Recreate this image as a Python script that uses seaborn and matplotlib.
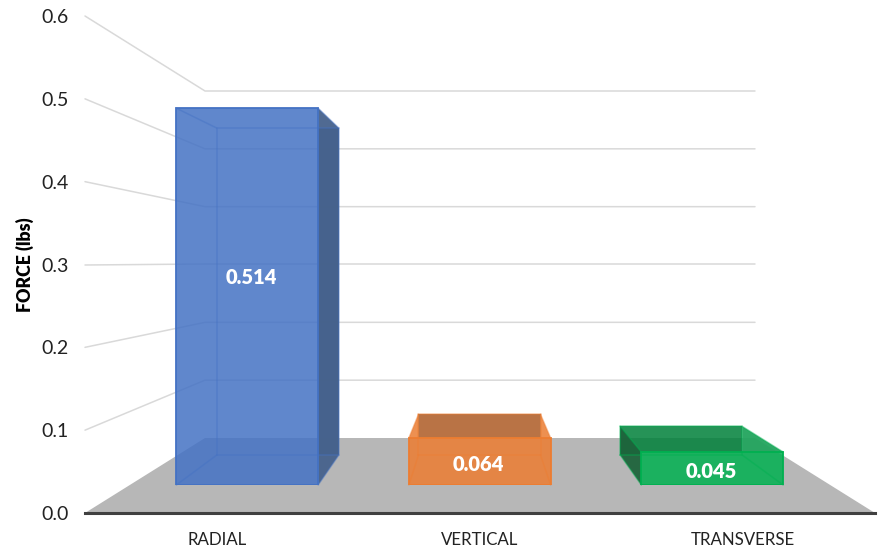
import numpy as np
import matplotlib
matplotlib.use("Agg")
import matplotlib.pyplot as plt
import seaborn as sns
from matplotlib.patches import Polygon
from matplotlib.path import Path
from matplotlib.lines import Line2D
from matplotlib.transforms import IdentityTransform
from matplotlib.colors import to_rgb

categories = ["RADIAL", "VERTICAL", "TRANSVERSE"]
force_values = [0.514, 0.064, 0.045]
value_labels = ["0.514", "0.064", "0.045"]
y_ticks = [0.0, 0.1, 0.2, 0.3, 0.4, 0.5, 0.6]
y_tick_labels = ["0.0", "0.1", "0.2", "0.3", "0.4", "0.5", "0.6"]
bar_colors = ["#4472C4", "#ED7D31", "#00B050"]
left_wall_colors = ["#5C84CC", "#EC8A48", "#1E643C"]
right_wall_colors = ["#46628C", "#EC8A48", "#22A55E"]

W, H = 882, 548
ID = IdentityTransform()
sns.set_theme(style="white")
plt.rcParams["font.family"] = ["Lato", "DejaVu Sans"]

fig = plt.figure(figsize=(W / 100, H / 100), dpi=100, facecolor="white")


def place(x0, x1, y_bottom, y_top, z):
    ax = fig.add_axes([x0 / W, 1 - y_bottom / H, (x1 - x0) / W, (y_bottom - y_top) / H])
    ax.set_zorder(z)
    ax.patch.set_alpha(0)
    return ax


# Four registered layers of the faux-3D scene, all with value axes 0-0.6
ax_main = place(85, 875, 513, 16, 1)      # labelled axis plane
ax_wall = place(205, 755, 438, 91, 2)     # back wall of the chart box
ax_back = place(177, 782, 455, 73.4, 3)   # far face of each bar
ax_front = place(131, 828.5, 485, 45.2, 4)  # near face of each bar

for ax in (ax_main, ax_wall, ax_back, ax_front):
    ax.set_ylim(0, 0.6)
    ax.set_xlim(-0.5, 2.5)


def shade(c, f, a=0.85):
    r, g, b = to_rgb(c)
    return (r * f, g * f, b * f, a)


# Near and far faces from the data
back_rgba = [shade(c, 0.73) for c in bar_colors]
sns.barplot(x=categories, y=force_values, hue=categories, palette=bar_colors, legend=False,
            width=0.605, saturation=1, ax=ax_back)
sns.barplot(x=categories, y=force_values, hue=categories, palette=bar_colors, legend=False,
            width=0.61, saturation=1, ax=ax_front)
for ax in (ax_back, ax_front):
    ax.set_xlim(-0.5, 2.5)
    ax.set_ylim(0, 0.6)
    ax.axis("off")
ax_wall.axis("off")

back_bars = list(ax_back.patches)[:3]
front_bars = list(ax_front.patches)[:3]

fig.canvas.draw()


def corners(bar, ax):
    x, y, w, h = bar.get_x(), bar.get_y(), bar.get_width(), bar.get_height()
    (x0, y0), (x1, y1) = ax.transData.transform([(x, y), (x + w, y + h)])
    return x0, y0, x1, y1


# Floor and wall grid
p0l, p0r = ax_main.transData.transform([(-0.5, 0), (2.5, 0)])
b0l, b0r = ax_wall.transData.transform([(-0.5, 0), (2.5, 0)])
ax_main.add_patch(Polygon([p0l, b0l, b0r, p0r], closed=True, facecolor="#B7B7B7", edgecolor="none",
                          transform=ID, clip_on=False, zorder=1))
for t in y_ticks[1:]:
    a = ax_main.transData.transform((-0.5, t))
    b = ax_wall.transData.transform((-0.5, t))
    c = ax_wall.transData.transform((2.5, t))
    ax_main.add_line(Line2D([a[0], b[0], c[0]], [a[1], b[1], c[1]], color="#D9D9D9", lw=1.1,
                            transform=ID, clip_on=False, zorder=2))

# Axis styling
ax_main.set_xticks([0, 1, 2], categories)
ax_main.set_yticks(y_ticks, y_tick_labels)
ax_main.tick_params(axis="x", length=0, pad=13.5, labelsize=12.2, labelcolor="#222222")
ax_main.tick_params(axis="y", length=0, pad=12, labelsize=14, labelcolor="#222222")
ax_main.set_ylabel("FORCE (lbs)", fontsize=12.8, fontweight="heavy", color="black", va="center")
ax_main.yaxis.set_label_coords(-0.076, 0.5)
for s in ("top", "left", "right"):
    ax_main.spines[s].set_visible(False)
ax_main.spines["bottom"].set_color("#404040")
ax_main.spines["bottom"].set_linewidth(2.2)
ax_main.spines["bottom"].set_zorder(3)

for i, (bb, fb, col) in enumerate(zip(back_bars, front_bars, bar_colors)):
    bx0, by0, bx1, by1 = corners(bb, ax_back)
    fx0, fy0, fx1, fy1 = corners(fb, ax_front)

    # hole in the shaded parts where the near face sits
    big = Path([(0, 0), (W, 0), (W, H), (0, H), (0, 0)],
               [Path.MOVETO, Path.LINETO, Path.LINETO, Path.LINETO, Path.CLOSEPOLY])
    hole = Path([(fx0, fy0), (fx0, fy1), (fx1, fy1), (fx1, fy0), (fx0, fy0)],
                [Path.MOVETO, Path.LINETO, Path.LINETO, Path.LINETO, Path.CLOSEPOLY])
    clip = Path.make_compound_path(big, hole)

    bb.set_alpha(None)
    bb.set_facecolor(back_rgba[i])
    bb.set_edgecolor("none")
    bb.set_clip_box(None)
    bb.set_clip_path(clip, ID)

    left = Polygon([(bx0, by1), (fx0, fy1), (fx0, fy0), (bx0, by0)], closed=True,
                   facecolor=left_wall_colors[i], edgecolor="none", alpha=0.95,
                   transform=ID, zorder=5)
    right = Polygon([(bx1, by1), (fx1, fy1), (fx1, fy0), (bx1, by0)], closed=True,
                    facecolor=right_wall_colors[i], edgecolor="none", alpha=0.95,
                    transform=ID, zorder=5)
    for p in (left, right):
        ax_back.add_patch(p)
        p.set_clip_box(None)
        p.set_clip_path(clip, ID)

    fb.set_alpha(None)
    fb.set_facecolor(shade(col, 1.0))
    fb.set_edgecolor(col)
    fb.set_linewidth(1.3)

    # Far-face outline and connecting edges, seen through the near face
    segs = [[(bx0, by0), (bx1, by0), (bx1, by1), (bx0, by1), (bx0, by0)],
            [(bx0, by1), (fx0, fy1)], [(bx1, by1), (fx1, fy1)],
            [(bx0, by0), (fx0, fy0)], [(bx1, by0), (fx1, fy0)]]
    for seg in segs:
        xs, ys = zip(*seg)
        ax_front.add_line(Line2D(xs, ys, color=col, lw=1.1, alpha=0.45, transform=ID,
                                 clip_on=False, zorder=6))

# Value labels
label_offsets = [(4.5, 19), (-1, -2.5), (-1, -3)]
for i, (txt, v, off) in enumerate(zip(value_labels, force_values, label_offsets)):
    ax_front.annotate(txt, xy=(i, v / 2), xytext=(off[0] * 0.72, off[1] * 0.72),
                      textcoords="offset points", ha="center", va="center",
                      color="white", fontsize=14.5, fontweight="heavy", zorder=10)

fig.savefig("out.png", dpi=100, facecolor="white")
